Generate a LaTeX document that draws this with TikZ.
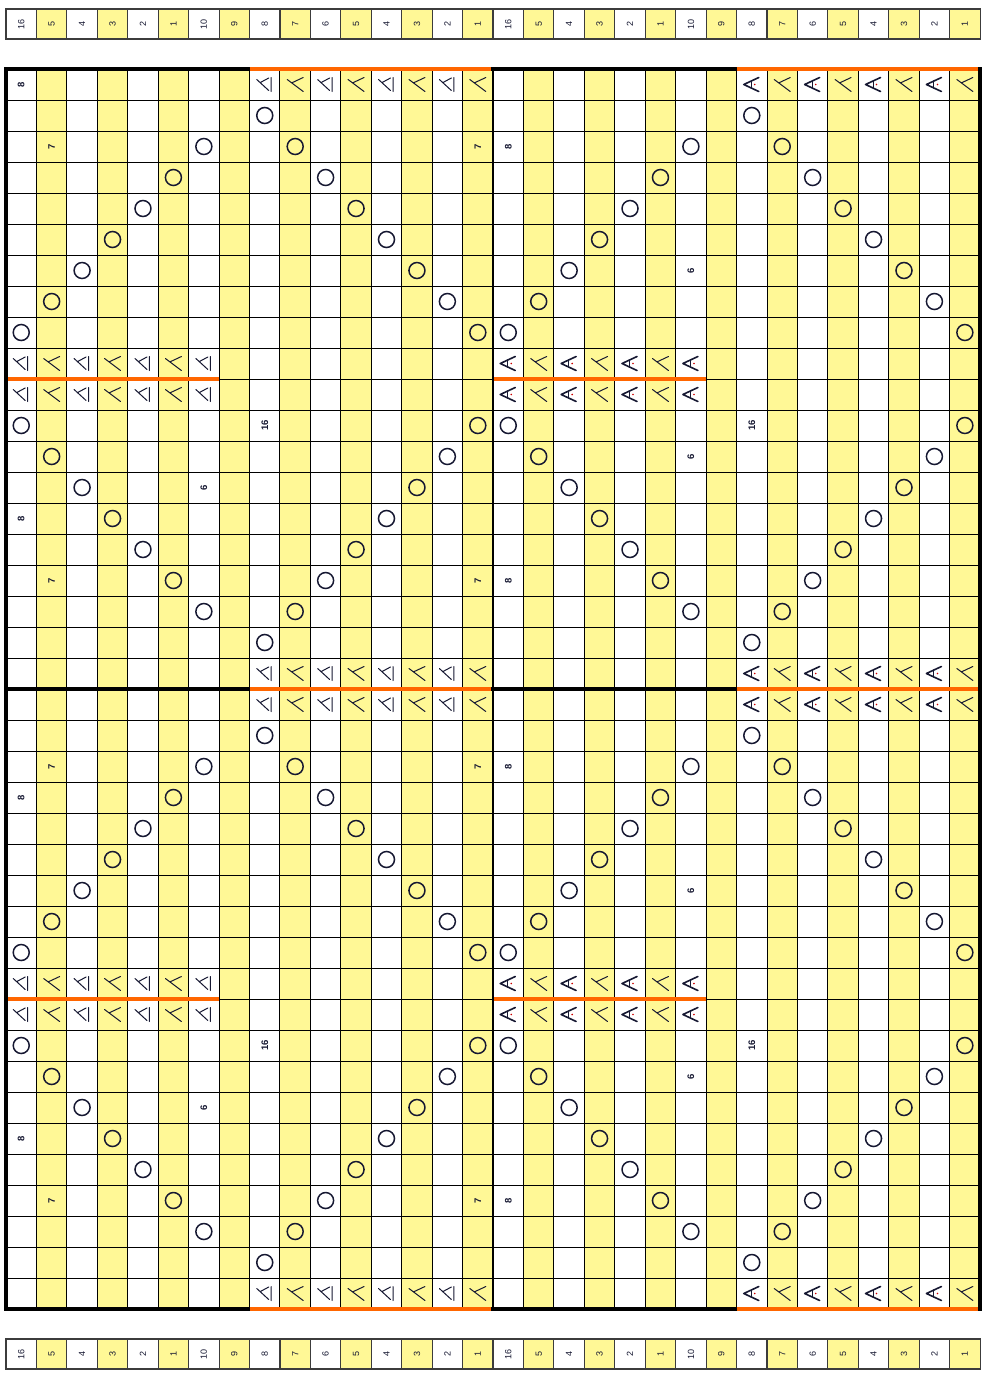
\documentclass[tikz,border=0pt]{standalone}
\usepackage{fontspec}
\setmainfont{Liberation Sans}
\definecolor{ylw}{RGB}{255,248,150}
\definecolor{org}{RGB}{255,102,0}
\definecolor{ink}{RGB}{22,24,50}
\definecolor{hdrline}{RGB}{60,60,60}
\def\cw{30.44}\def\xo{6}\def\rh{31}\def\yo{69}
\def\xa{249.52}\def\xb{493.04}\def\xc{736.56}\def\xd{980.08}
\begin{document}
\begin{tikzpicture}[x=1pt,y=-1pt,
  yo/.style={circle,draw=ink,line width=1.5pt,minimum size=16pt,inner sep=0pt},
  num/.style={rotate=90,font=\fontsize{9.5}{10}\selectfont\bfseries,text=ink,inner sep=0pt},
  hnum/.style={rotate=90,font=\fontsize{9}{10}\selectfont,text=ink,inner sep=0pt},
  symline/.style={draw=ink,line width=1pt,line cap=round,line join=round},
  symbox/.style={minimum width=28pt,minimum height=29pt,inner sep=0pt},
  symA/.style={symbox,path picture={\begin{scope}[shift={(path picture bounding box.center)}]
     \draw[symline] (-8pt,5pt) -- (4pt,-6pt) (-4.6pt,1.9pt) -- (4pt,6.5pt) (6.5pt,7pt) -- (6.5pt,-7pt);
     \end{scope}}},
  symB/.style={symbox,path picture={\begin{scope}[shift={(path picture bounding box.center)}]
     \draw[symline] (-8pt,5pt) -- (8pt,-7pt) (-3.5pt,1.6pt) -- (8pt,7pt);
     \end{scope}}},
  symC/.style={symbox,path picture={\begin{scope}[shift={(path picture bounding box.center)}]
     \draw[symline,line width=1.6pt] (7pt,7pt) -- (-8pt,0pt) -- (7pt,-7pt);
     \draw[symline] (-0.5pt,3.6pt) -- (-0.5pt,-3.6pt);
     \fill[red!80!black] (3pt,0pt) circle (0.9pt);
     \end{scope}}},
  gridl/.style={draw=black,line width=1pt},
  hline/.style={draw=hdrline,line width=1.1pt},
  bord/.style={draw=black,line width=3.6pt,line cap=rect},
  mbord/.style={draw=black,line width=2.6pt},
  obord/.style={draw=org,line width=3.6pt}]
\useasboundingbox (0,0) rectangle (983,1374);
\fill[white] (0,0) rectangle (983,1374);
% yellow columns
\foreach \i in {1,3,...,31} {
  \fill[ylw] ({\xo+\i*\cw},9) rectangle ({\xo+(\i+1)*\cw},39);
  \fill[ylw] ({\xo+\i*\cw},\yo) rectangle ({\xo+(\i+1)*\cw},1309);
  \fill[ylw] ({\xo+\i*\cw},1339) rectangle ({\xo+(\i+1)*\cw},1369);
}
% grid
\foreach \i in {0,...,32} {
  \draw[gridl] ({\xo+\i*\cw},\yo) -- ({\xo+\i*\cw},1309);
  \draw[hline] ({\xo+\i*\cw},9) -- ({\xo+\i*\cw},39);
  \draw[hline] ({\xo+\i*\cw},1339) -- ({\xo+\i*\cw},1369);
}
\foreach \j in {0,...,40} \draw[gridl] (\xo,{\yo+\j*\rh}) -- (\xd,{\yo+\j*\rh});
\draw[hline] (\xo,9) rectangle (\xd,39);
\draw[hline] (\xo,1339) rectangle (\xd,1369);
% header labels
\foreach \lab [count=\i from 0] in {16,5,4,3,2,1,10,9,8,7,6,5,4,3,2,1,16,5,4,3,2,1,10,9,8,7,6,5,4,3,2,1} {
  \node[hnum] (ht\i) at ({\xo+(\i+0.5)*\cw},24) {\lab};
  \node[hnum] (hb\i) at ({\xo+(\i+0.5)*\cw},1354) {\lab};
}
% yarn overs
\foreach \off in {0,20} {
  \foreach \c/\r in {8/1,24/1,6/2,9/2,22/2,25/2,5/3,10/3,21/3,26/3,4/4,11/4,20/4,27/4,3/5,12/5,19/5,28/5,2/6,13/6,18/6,29/6,1/7,14/7,17/7,30/7,0/8,15/8,16/8,31/8,0/11,15/11,16/11,31/11,1/12,14/12,17/12,30/12,2/13,13/13,18/13,29/13,3/14,12/14,19/14,28/14,4/15,11/15,20/15,27/15,5/16,10/16,21/16,26/16,6/17,9/17,22/17,25/17,8/18,24/18} {
    \pgfmathtruncatemacro\rr{\r+\off}
    \node[yo] (o-\c-\rr) at ({\xo+(\c+0.5)*\cw},{\yo+(\rr+0.5)*\rh}) {};
  }
}
% numbers in cells
\foreach \c/\r/\t in {0/0/8,1/2/7,15/2/7,16/2/8,22/6/6,8/11/16,24/11/16,22/12/6,6/13/6,0/14/8,1/16/7,15/16/7,16/16/8,1/22/7,15/22/7,16/22/8,0/23/8,22/26/6,8/31/16,24/31/16,22/32/6,6/33/6,0/34/8,1/36/7,15/36/7,16/36/8}
  \node[num] (n-\c-\r) at ({\xo+(\c+0.5)*\cw},{\yo+(\r+0.5)*\rh}) {\t};
% decrease symbols
\foreach \r in {0,19,20,39} {
  \foreach \c in {8,10,12,14} \node[symA] (s-\c-\r) at ({\xo+(\c+0.5)*\cw},{\yo+(\r+0.5)*\rh}) {};
  \foreach \c in {9,11,13,15,25,27,29,31} \node[symB] (s-\c-\r) at ({\xo+(\c+0.5)*\cw},{\yo+(\r+0.5)*\rh}) {};
  \foreach \c in {24,26,28,30} \node[symC] (s-\c-\r) at ({\xo+(\c+0.5)*\cw},{\yo+(\r+0.5)*\rh}) {};
}
\foreach \r in {9,10,29,30} {
  \foreach \c in {0,2,4,6} \node[symA] (s-\c-\r) at ({\xo+(\c+0.5)*\cw},{\yo+(\r+0.5)*\rh}) {};
  \foreach \c in {1,3,5,17,19,21} \node[symB] (s-\c-\r) at ({\xo+(\c+0.5)*\cw},{\yo+(\r+0.5)*\rh}) {};
  \foreach \c in {16,18,20,22} \node[symC] (s-\c-\r) at ({\xo+(\c+0.5)*\cw},{\yo+(\r+0.5)*\rh}) {};
}
% borders
\foreach \y in {379,999} {
  \draw[obord] (\xo,\y) -- (219.08,\y);
  \draw[obord] (\xb,\y) -- (706.12,\y);
}
\foreach \y in {69,689,1309} {
  \draw[bord] (\xo,\y) -- (\xa,\y);
  \draw[obord] (\xa,\y) -- (\xb,\y);
  \draw[bord] (\xb,\y) -- (\xc,\y);
  \draw[obord] (\xc,\y) -- (\xd,\y);
}
\draw[mbord] (\xb,69) -- (\xb,1309);
\draw[bord] (\xo,69) -- (\xo,1309);
\draw[bord] (\xd,69) -- (\xd,1309);
\end{tikzpicture}
\end{document}
